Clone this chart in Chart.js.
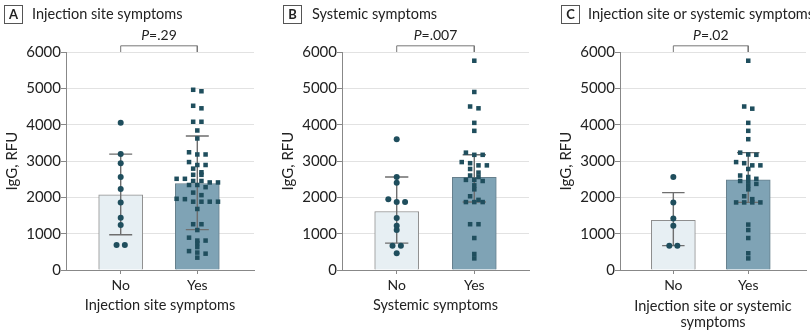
<!DOCTYPE html>
<html>
<head>
<meta charset="utf-8">
<script src="https://cdn.jsdelivr.net/npm/chart.js@4.4.0/dist/chart.umd.min.js"></script>
<style>
  html, body { margin: 0; padding: 0; background: #fff; }
  body { width: 810px; height: 331px; position: relative; overflow: hidden; font-family: Lato, sans-serif; color: #222; }
  .panel { position: absolute; top: 0; height: 331px; }
  .panel canvas { position: absolute; left: 0; top: 0; }
  .tag { position: absolute; top: 5px; width: 17px; height: 17px; border: 1px solid #555; font-weight: bold; font-size: 13px; line-height: 17px; text-align: center; }
  .head { position: absolute; top: 4px; font-size: 14.5px; line-height: 20px; white-space: nowrap; }
</style>
</head>
<body>
<div class="panel" style="left:0;width:258px">
  <canvas id="cA" width="258" height="331"></canvas>
  <div class="tag" style="left:4px">A</div><div class="head" style="left:32px">Injection site symptoms</div>
</div>
<div class="panel" style="left:276px;width:257px">
  <canvas id="cB" width="257" height="331"></canvas>
  <div class="tag" style="left:7px">B</div><div class="head" style="left:36px">Systemic symptoms</div>
</div>
<div class="panel" style="left:554px;width:256px">
  <canvas id="cC" width="256" height="331"></canvas>
  <div class="tag" style="left:7px">C</div><div class="head" style="left:34px">Injection site or systemic symptoms</div>
</div>
<script>
const categories = ['No', 'Yes'];

// A: injection site symptoms
const aNo = [4050, 3190, 2940, 2560, 2230, 1860, 1440, 1240, 690, 690];
const aYes = [4960, 4920, 4520, 4450, 4080, 4080, 3840, 3620, 3240, 3180, 3180, 2970, 2890, 2890,
  2790, 2690, 2620, 2620, 2510, 2510, 2450, 2450, 2410, 2410, 2340, 2340, 2280, 2130, 2060, 1960,
  1950, 1880, 1880, 1880, 1880, 1680, 1260, 1260, 1100, 890, 810, 810, 740, 630, 520, 480, 450, 340];
const aMean = [2070, 2380];
const aLow = [970, 1110];
const aHigh = [3190, 3690];

// B: systemic symptoms
const bNo = [3600, 2560, 2400, 1950, 1870, 1870, 1430, 1220, 1100, 670, 670, 460];
const bYes = [5760, 4900, 4500, 4450, 4050, 3830, 3230, 3170, 3170, 2970, 2940, 2880, 2880, 2780,
  2680, 2600, 2560, 2480, 2480, 2450, 2330, 2220, 2030, 1930, 1870, 1870, 1870, 1260, 1260, 880, 440, 320];
const bMean = [1610, 2550];
const bLow = [740, 1870];
const bHigh = [2560, 3170];

// C: injection site or systemic symptoms
const cNo = [2560, 1860, 1420, 1220, 670, 670];
const cYes = [5760, 4500, 4440, 4050, 3830, 3600, 3230, 3180, 3170, 2970, 2940, 2880, 2880, 2780,
  2600, 2560, 2510, 2450, 2450, 2370, 2330, 2220, 2030, 1950, 1860, 1860, 1860, 1860, 1250, 1100, 880, 460, 320];
const cMean = [1370, 2480];
const cLow = [670, 1860];
const cHigh = [2130, 3230];

const pLabels = ['.29', '.007', '.02'];

const dotColor = '#1f4e5d';
const step = 0.108;
const fontFamily = 'Lato';

// spread points with close values into centered rows
function swarm(values, center) {
  const sorted = values.slice().sort((a, b) => b - a);
  const pts = [];
  let row = [];
  const flush = () => {
    row.forEach((v, k) => pts.push({ x: center + (k - (row.length - 1) / 2) * step, y: v }));
    row = [];
  };
  sorted.forEach(v => {
    if (row.length && row[0] - v > 100) flush();
    row.push(v);
  });
  flush();
  return pts;
}

function errorBars(lo, hi, cap) {
  const d = [];
  lo.forEach((l, i) => {
    const h = hi[i];
    d.push({x: i - cap, y: h}, {x: i + cap, y: h}, {x: i, y: null},
           {x: i, y: h}, {x: i, y: l}, {x: i, y: null},
           {x: i - cap, y: l}, {x: i + cap, y: l}, {x: i, y: null});
  });
  return d;
}

const yMax = 6000;
const bracketTop = yMax + 170;

function makePanel(id, o) {
  const pLabel = {
    id: 'pLabel',
    afterDraw(chart) {
      const ctx = chart.ctx;
      const xs = chart.scales.x, ys = chart.scales.y;
      const cx = (xs.getPixelForValue(0) + xs.getPixelForValue(1)) / 2;
      const cy = ys.getPixelForValue(bracketTop) - 10;
      ctx.save();
      ctx.fillStyle = '#222';
      ctx.textBaseline = 'middle';
      const f1 = 'italic 14px ' + fontFamily, f2 = '14px ' + fontFamily;
      ctx.font = f1; const w1 = ctx.measureText('P').width;
      ctx.font = f2; const w2 = ctx.measureText('=' + o.p).width;
      let x = cx - (w1 + w2) / 2;
      ctx.textAlign = 'left';
      ctx.font = f1; ctx.fillText('P', x, cy);
      ctx.font = f2; ctx.fillText('=' + o.p, x + w1, cy);
      ctx.restore();
    }
  };
  new Chart(document.getElementById(id), {
    type: 'bar',
    data: {
      datasets: [
        { type: 'scatter', data: swarm(o.no, 0), pointStyle: 'circle', pointRadius: 3, backgroundColor: dotColor, borderWidth: 0, order: 1 },
        { type: 'scatter', data: swarm(o.yes, 1), pointStyle: 'rect', pointRadius: 3.2, backgroundColor: dotColor, borderWidth: 0, order: 1 },
        { type: 'line', data: errorBars(o.low, o.high, 0.15), borderColor: '#6e6e6e', borderWidth: 1.4, pointRadius: 0, spanGaps: false, order: 2 },
        { type: 'line', data: [{x: 0, y: yMax}, {x: 0, y: bracketTop}, {x: 1, y: bracketTop}, {x: 1, y: yMax}],
          borderColor: '#777', borderWidth: 1, pointRadius: 0, clip: false, order: 2 },
        { type: 'bar', data: o.mean.map((m, i) => ({x: i, y: m})), backgroundColor: ['#e7eff3', '#7fa3b5'],
          borderColor: ['#8e8e8e', '#667f8c'], borderWidth: 1, barThickness: 44, order: 3 }
      ]
    },
    options: {
      responsive: false,
      animation: false,
      events: [],
      layout: { padding: { top: 52, bottom: 0, left: 0, right: o.padRight } },
      plugins: { legend: { display: false }, tooltip: { enabled: false } },
      scales: {
        x: {
          type: 'linear', min: o.xMin, max: o.xMax, offset: false,
          afterBuildTicks: s => { s.ticks = categories.map((c, i) => ({ value: i })); },
          afterFit: s => { s.height = 61; },
          ticks: { callback: v => categories[v], color: '#222', font: { family: fontFamily, size: 14 }, padding: 3, autoSkip: false, maxRotation: 0 },
          grid: { offset: false, drawOnChartArea: false, drawTicks: true, tickLength: 4, tickColor: '#888' },
          border: { color: '#888' },
          title: { display: true, text: o.xTitle, color: '#222', font: { family: fontFamily, size: 14.5, lineHeight: 1.15 }, padding: { top: 0, bottom: o.titlePad } }
        },
        y: {
          min: 0, max: yMax,
          afterFit: s => { s.width = 66; },
          ticks: { stepSize: 1000, callback: v => String(v), color: '#222', font: { family: fontFamily, size: 15 }, padding: 0 },
          grid: { color: '#e2e2e2', tickColor: '#888', tickLength: 5 },
          border: { color: '#888' },
          title: { display: true, text: 'IgG, RFU', color: '#222', font: { family: fontFamily, size: 15, lineHeight: 1.15 }, padding: { top: 4, bottom: 4 } }
        }
      }
    },
    plugins: [pLabel]
  });
}

makePanel('cA', { no: aNo, yes: aYes, mean: aMean, low: aLow, high: aHigh, p: pLabels[0],
  xMin: -0.714, xMax: 1.74, padRight: 3, xTitle: 'Injection site symptoms', titlePad: 17 });
makePanel('cB', { no: bNo, yes: bYes, mean: bMean, low: bLow, high: bHigh, p: pLabels[1],
  xMin: -0.705, xMax: 1.705, padRight: 3, xTitle: 'Systemic symptoms', titlePad: 17 });
makePanel('cC', { no: cNo, yes: cYes, mean: cMean, low: cLow, high: cHigh, p: pLabels[2],
  xMin: -0.712, xMax: 1.771, padRight: 0, xTitle: ['Injection site or systemic', 'symptoms'], titlePad: 0 });
</script>
</body>
</html>
